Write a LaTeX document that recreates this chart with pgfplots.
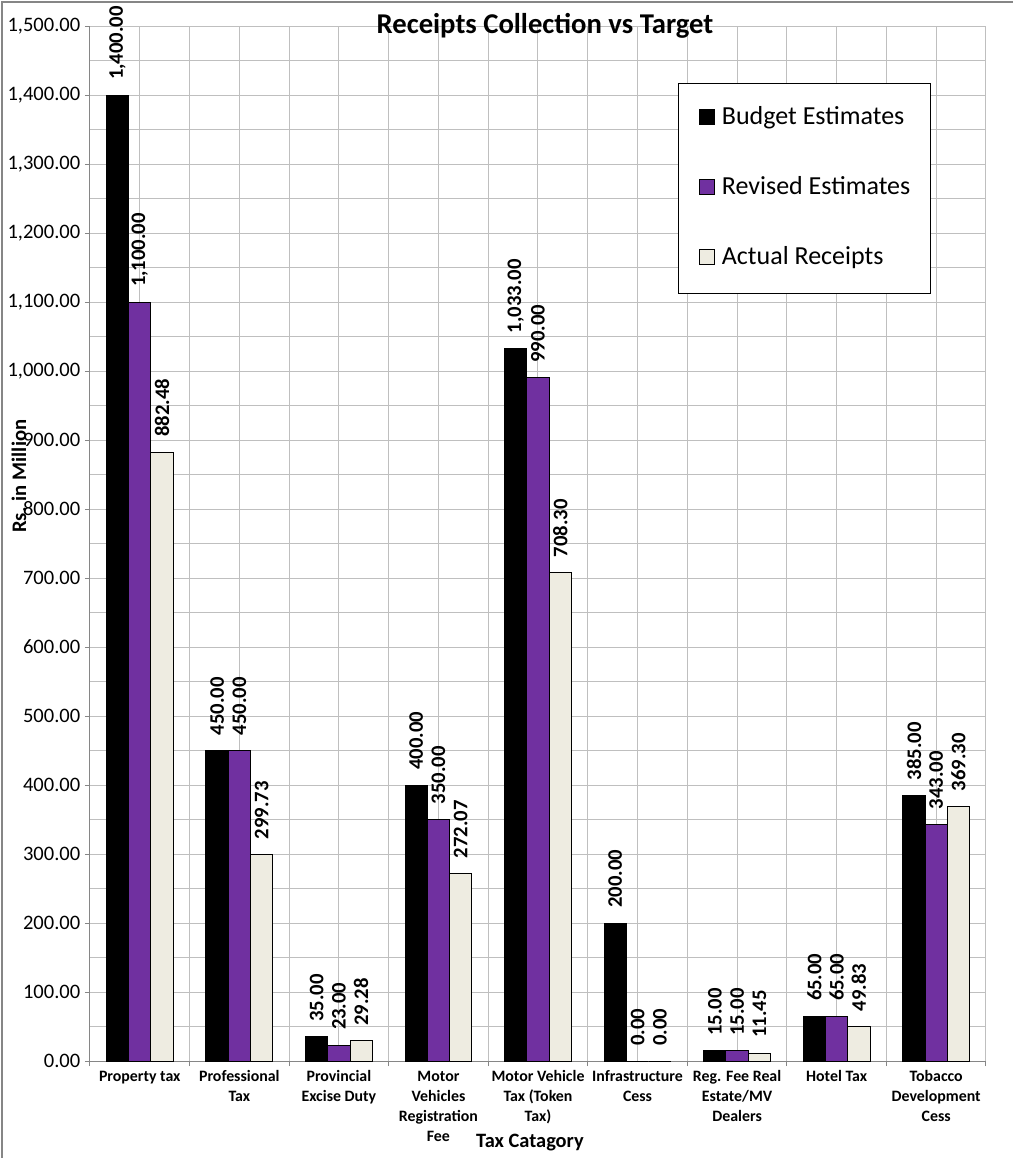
\documentclass[border=0pt]{standalone}
\usepackage{pgfplots}
\pgfplotsset{compat=1.18}
\usepackage{fontspec}
\setmainfont{Carlito}

\definecolor{revpurple}{HTML}{7030A0}
\definecolor{actcream}{HTML}{EEECE1}
\definecolor{gridgray}{HTML}{BFBFBF}
\definecolor{axisgray}{HTML}{868686}

% Receipts by tax category (Rs. in million)
\pgfplotstableread{
idx budget revised actual
0   1400   1100    882.48
1   450    450     299.73
2   35     23      29.28
3   400    350     272.07
4   1033   990     708.30
5   200    0       0
6   15     15      11.45
7   65     65      49.83
8   385    343     369.30
}\receipts

\begin{document}
\begin{tikzpicture}
\path[use as bounding box] (0pt,0pt) rectangle (759.75pt,-868.5pt);
\draw[axisgray, line width=1pt] (1.5pt,-868.5pt) -- (1.5pt,-1.5pt) -- (759.75pt,-1.5pt);
\begin{axis}[
  at={(67.5pt,-795.75pt)}, anchor=south west,
  width=672pt, height=776.25pt, scale only axis,
  clip=false,
  ybar=0pt, bar width=16.7pt,
  xmin=-0.5, xmax=8.5,
  ymin=0, ymax=1500,
  xtick={0,...,8},
  minor xtick={-0.5,0.5,...,8.5},
  ytick={0,100,...,1500},
  minor ytick={50,150,...,1450},
  xticklabels={Property tax, {Professional\\Tax}, {Provincial\\Excise Duty},
    {Motor\\Vehicles\\Registration\\Fee}, {Motor Vehicle\\Tax (Token\\Tax)},
    {Infrastructure\\Cess}, {Reg. Fee Real\\Estate/MV\\Dealers}, Hotel Tax,
    {Tobacco\\Development\\Cess}},
  grid=both,
  major grid style={gridgray, line width=0.75pt},
  minor grid style={gridgray, line width=0.75pt},
  axis x line*=bottom, axis y line*=left,
  axis line style={axisgray, line width=0.75pt},
  tick style={axisgray, line width=0.75pt},
  tick align=outside,
  major tick length=3.75pt, minor tick length=3.75pt,
  major x tick style={draw=none},
  minor y tick style={draw=none},
  scaled y ticks=false,
  /pgf/number format/fixed,
  /pgf/number format/fixed zerofill,
  /pgf/number format/precision=2,
  /pgf/number format/1000 sep={,},
  /pgf/number format/assume math mode=true,
  yticklabel style={font=\fontsize{15.4}{18}\selectfont, text=black},
  xticklabel style={font=\bfseries\fontsize{11.9}{15}\selectfont, align=center, text=black},
  ylabel={Rs. in Million},
  ylabel style={at={(axis description cs:-0.0792,0.565)}, anchor=center,
    font=\bfseries\fontsize{15.5}{18}\selectfont},
  xlabel={Tax Catagory},
  xlabel style={at={(axis description cs:0.491,-0.0792)}, anchor=center,
    font=\bfseries\fontsize{15.3}{18}\selectfont},
  nodes near coords,
  every node near coord/.append style={rotate=90, anchor=west,
    font=\bfseries\fontsize{15.5}{18}\selectfont, text=black,
    inner xsep=11pt, inner ysep=0pt},
  legend cell align=left,
  legend image code/.code={
    \draw[#1, line width=0.75pt] (0pt,0pt) rectangle (11.8pt,11.8pt);
    \path (16.8pt,0pt);
  },
  legend style={at={(axis description cs:0.656,0.945)}, anchor=north west,
    draw=black, line width=1.1pt, inner xsep=15pt, inner ysep=17.5pt,
    row sep=35pt, font=\fontsize{19.5}{22}\selectfont,
    nodes={inner sep=0pt, text height=13.5pt, text depth=4pt, anchor=base west}},
]
\addplot[fill=black, draw=black, line width=0.75pt] table[x=idx, y=budget] {\receipts};
\addplot[fill=revpurple, draw=black, line width=0.75pt] table[x=idx, y=revised] {\receipts};
\addplot[fill=actcream, draw=black, line width=0.75pt] table[x=idx, y=actual] {\receipts};
\legend{Budget Estimates, Revised Estimates, Actual Receipts}
\end{axis}
% chart title, set over the top of the plot area
\node[anchor=base, inner sep=0pt, font=\bfseries\fontsize{21.5}{25}\selectfont]
  at (408.75pt,-24.75pt) {Receipts Collection vs Target};
\end{tikzpicture}
\end{document}
